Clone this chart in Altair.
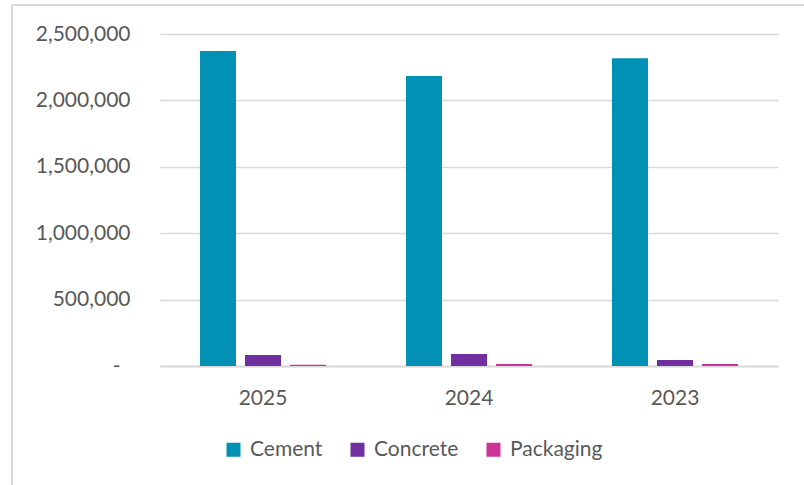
import altair as alt
import pandas as pd

years = ["2025", "2024", "2023"]
series = ["Cement", "Concrete", "Packaging"]
cement = [2372000, 2184000, 2317000]
concrete = [83000, 90000, 45000]
packaging = [10000, 15000, 15000]
colors = ["#0091B5", "#7030A0", "#CC3399"]
y_ticks = [0, 500000, 1000000, 1500000, 2000000, 2500000]

rows = []
for i, yr in enumerate(years):
    for s, vals in zip(series, [cement, concrete, packaging]):
        rows.append({"year": yr, "series": s, "value": vals[i]})
df = pd.DataFrame(rows)

FONT = "Lato"
GRAY = "#595959"
GRID = "#D9D9D9"
FS = 21

bars = alt.Chart(df).mark_bar().encode(
    x=alt.X("year:N", sort=years, title=None,
            scale=alt.Scale(paddingInner=0.388, paddingOuter=0.194),
            axis=alt.Axis(labelAngle=0, ticks=False, tickSize=0, labelPadding=21,
                          labelFontSize=FS, labelColor=GRAY, labelFont=FONT,
                          domainColor=GRID, domainWidth=2, grid=False)),
    xOffset=alt.XOffset("series:N", sort=series,
                        scale=alt.Scale(paddingInner=0.2, paddingOuter=0)),
    y=alt.Y("value:Q", title=None,
            scale=alt.Scale(domain=[0, 2500000], nice=False),
            axis=alt.Axis(values=y_ticks, ticks=False, tickSize=0, domain=False,
                          labelPadding={"condition": {"test": "datum.value == 0", "value": 40}, "value": 30},
                          labelFontSize=FS, labelColor=GRAY,
                          labelFont=FONT, gridColor=GRID, gridWidth=1.5,
                          labelExpr="datum.value == 0 ? '-' : format(datum.value, ',')")),
    color=alt.Color("series:N", sort=series,
                    scale=alt.Scale(domain=series, range=colors),
                    legend=alt.Legend(title=None, orient="none", direction="horizontal",
                                      legendX=63, legendY=405, symbolType="square",
                                      symbolSize=196, symbolStrokeWidth=0,
                                      labelFontSize=FS, labelFont=FONT, labelColor=GRAY,
                                      labelOffset=6, columnPadding=24)),
)

frame_df = pd.DataFrame({"k": [0]})
frame = alt.Chart(frame_df).mark_rect(fill=None, stroke=GRID, strokeWidth=2).encode(
    x=alt.value(-148), x2=alt.value(700), y=alt.value(-29), y2=alt.value(500)
)

chart = alt.layer(frame, bars).properties(
    width=618, height=332,
    autosize=alt.AutoSizeParams(type="none"),
    padding={"left": 160, "top": 34, "right": 26, "bottom": 119},
).configure(background="white").configure_view(stroke=None)

chart.save("out.html", embed_options={"renderer": "svg", "actions": False})
